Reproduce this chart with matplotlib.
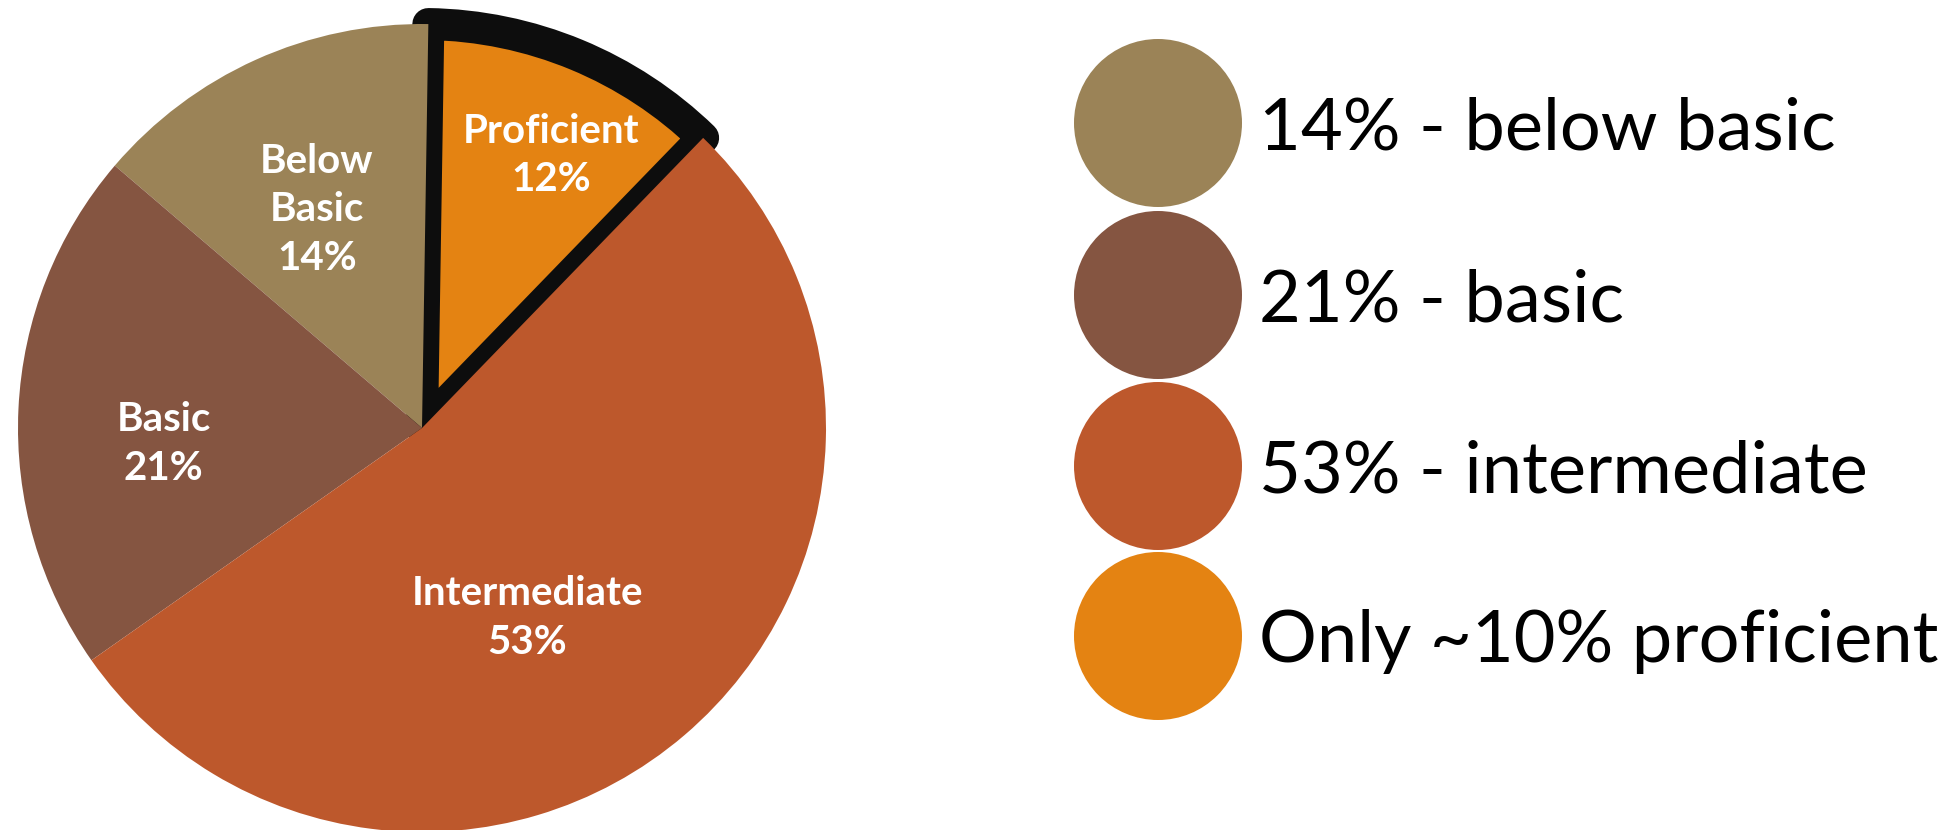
import matplotlib
matplotlib.use("Agg")
import matplotlib.pyplot as plt
from matplotlib.patches import Circle

# Proficiency levels, counter-clockwise from the top
categories = ["Below\nBasic", "Basic", "Intermediate", "Proficient"]
shares = [14, 21, 53, 12]
colors = ["#9B8357", "#855541", "#BD582C", "#E48312"]

# Legend entries (top to bottom)
legend_labels = ["14% - below basic", "21% - basic", "53% - intermediate", "Only ~10% proficient"]
legend_colors = ["#9B8357", "#855541", "#BD582C", "#E48312"]

# Label anchor points inside the pie, in axes data units (radius = 1)
label_xy = [(-0.26, 0.54), (-0.64, -0.04), (0.26, -0.47), (0.32, 0.675)]

W, H, DPI = 1959, 830, 100
fig = plt.figure(figsize=(W / DPI, H / DPI), dpi=DPI)
fig.patch.set_facecolor("white")

# Pie axes: square box, centre at (422, 428) px from top-left, radius 404 px
cx, cy, R = 422, 428, 404
ax = fig.add_axes([(cx - R) / W, (H - cy - R) / H, 2 * R / W, 2 * R / H])
wedges, _ = ax.pie(shares, colors=colors, startangle=89.1, counterclock=True,
                   radius=1.0, wedgeprops=dict(linewidth=0))
ax.set_xlim(-1, 1)
ax.set_ylim(-1, 1)
ax.set_aspect("equal")
ax.axis("off")

for w in wedges:
    w.set_clip_on(False)
    w.set_zorder(2)

# Highlight the proficient slice with a heavy black outline drawn beneath its neighbours
hi = wedges[3]
hi.set_edgecolor("#0D0D0D")
hi.set_linewidth(32 * 72 / DPI)
hi.set_joinstyle("round")
hi.set_zorder(1)

label_font = ["Lato", "DejaVu Sans"]
for name, val, (x, y) in zip(categories, shares, label_xy):
    ax.text(x, y, f"{name}\n{val}%", ha="center", va="center", color="white",
            fontsize=29, fontweight="bold", family=label_font, linespacing=1.38,
            zorder=5)

# Legend: coloured discs with large captions, laid out in pixel units
lax = fig.add_axes([0, 0, 1, 1])
lax.set_xlim(0, W)
lax.set_ylim(H, 0)
lax.axis("off")
lax.patch.set_alpha(0)

disc_x, disc_r = 1158, 84
row_y = [123, 295, 466, 636]
for lbl, col, yy in zip(legend_labels, legend_colors, row_y):
    lax.add_patch(Circle((disc_x, yy), disc_r, facecolor=col, edgecolor="none"))
    lax.text(1259, yy + 26, lbl, ha="left", va="baseline", color="black",
             fontsize=52, family=["Lato", "DejaVu Sans"])

fig.savefig("out.png", dpi=DPI, facecolor="white")
